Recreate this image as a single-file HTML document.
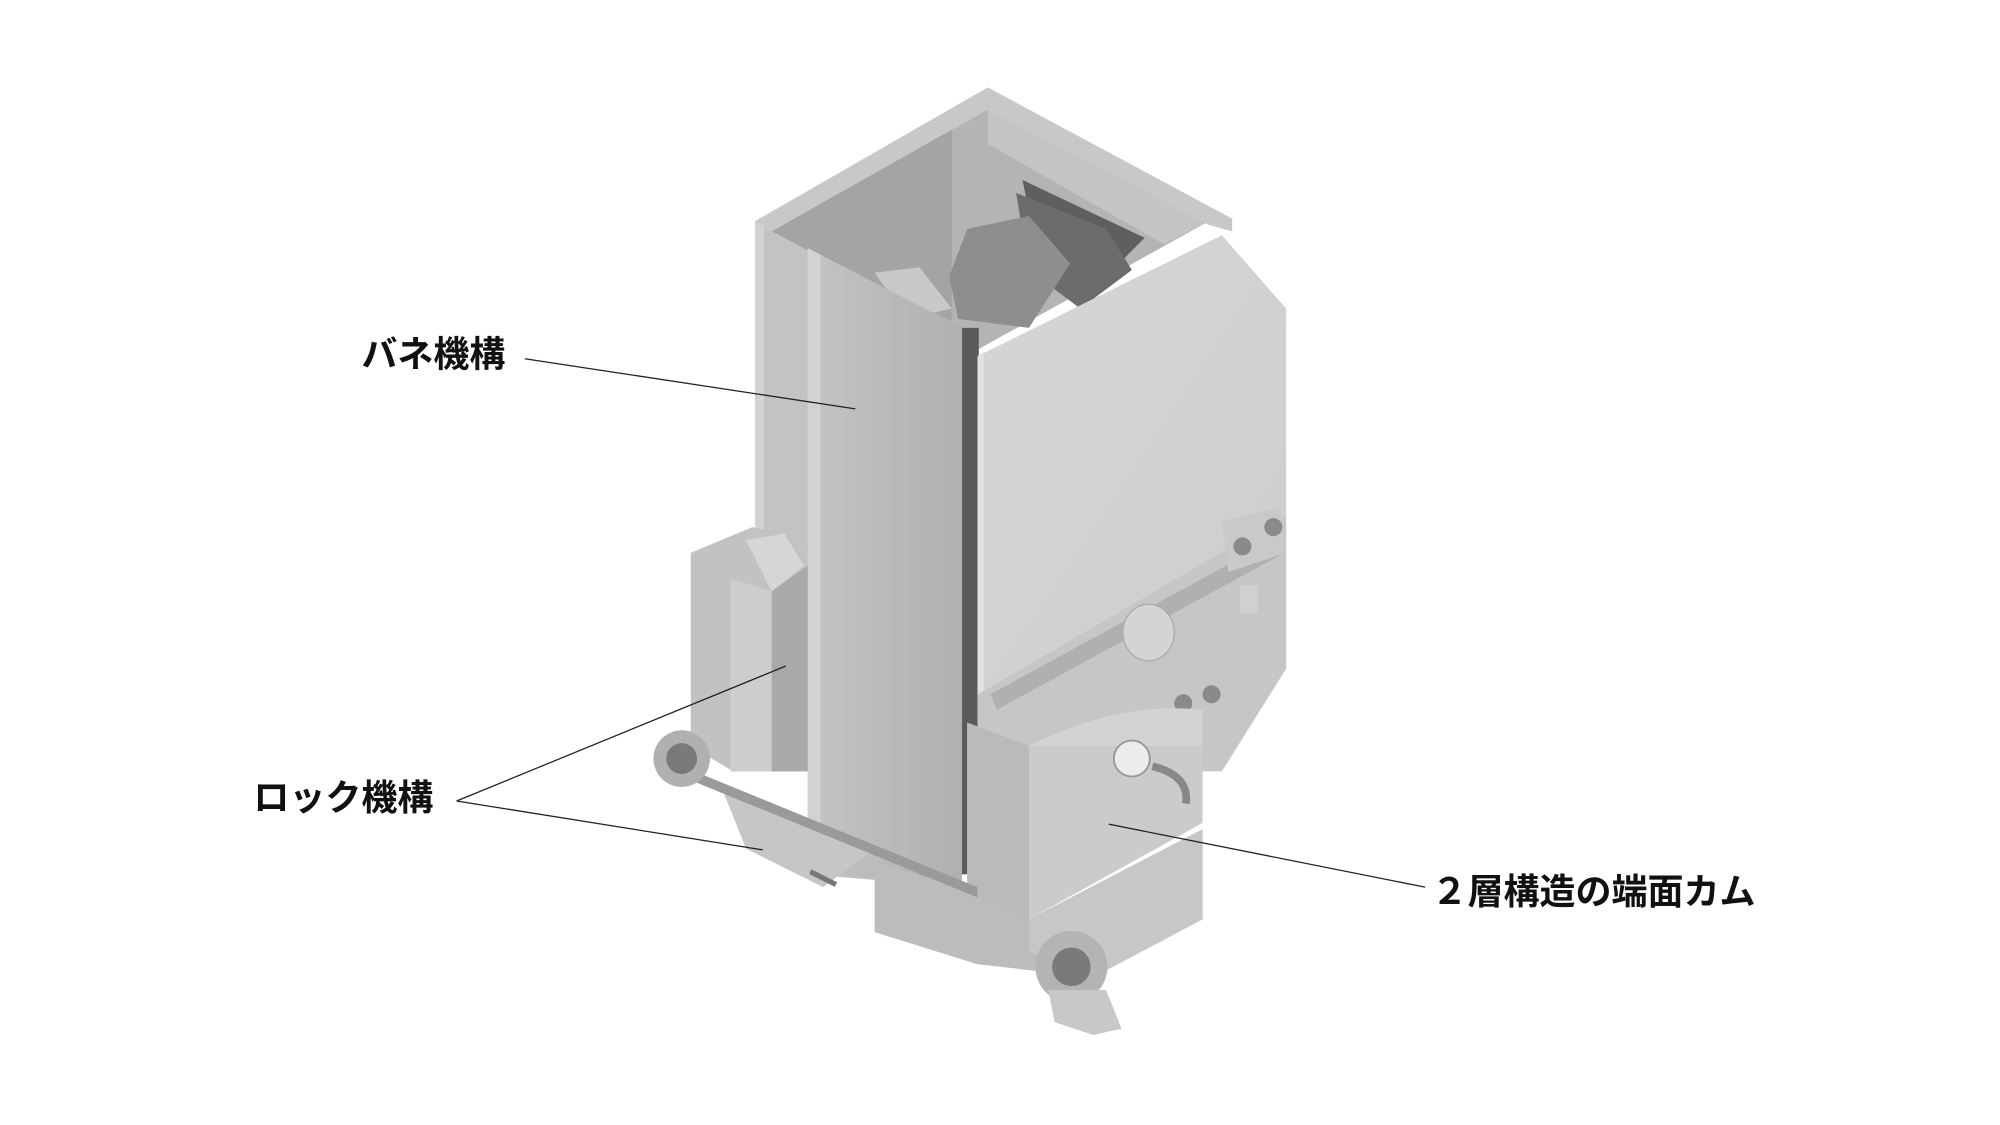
<!DOCTYPE html>
<html><head><meta charset="utf-8"><style>
html,body{margin:0;padding:0;background:#fff;}
svg{display:block;}
</style></head><body>
<svg width="2000" height="1125" viewBox="0 0 1555 875" preserveAspectRatio="none" xmlns="http://www.w3.org/2000/svg">
<defs>
<linearGradient id="cp" x1="0" y1="0" x2="1" y2="0"><stop offset="0" stop-color="#c4c4c4"/><stop offset="1" stop-color="#b0b0b0"/></linearGradient>
<linearGradient id="rp" x1="0" y1="0" x2="1" y2="1"><stop offset="0" stop-color="#d6d6d6"/><stop offset="1" stop-color="#cdcdcd"/></linearGradient>
</defs>
<rect width="1555" height="875" fill="#fff"/>
<!-- box interior -->
<polygon points="600,180 768,85 940,172 760,272 748,255" fill="#b4b4b4"/>
<polygon points="600,180 740,100 740,250 628,195" fill="#a4a4a4"/>
<polygon points="768,85 940,172 905,190 768,112" fill="#c4c4c4"/>
<polygon points="795,140 890,185 870,205 800,165" fill="#5f5f5f"/>
<polygon points="790,150 860,178 880,210 840,240 800,210" fill="#6c6c6c"/>
<polygon points="752,178 800,168 832,205 800,255 745,248 738,215" fill="#8e8e8e"/>
<polygon points="680,212 715,208 740,240 705,248" fill="#c8c8c8"/>
<!-- top rim -->
<polygon points="587,172 768,68 958,170 958,180 940,175 768,85 600,180" fill="#c8c8c8"/>
<!-- left outer wall -->
<polygon points="587,172 600,180 628,195 628,430 587,440" fill="#c3c3c3"/>
<polygon points="587,172 594,176 594,440 587,440" fill="#d2d2d2"/>
<!-- dark gap between panels -->
<rect x="745" y="255" width="16" height="425" fill="#5a5a5a"/>
<!-- right panel -->
<polygon points="760,277 950,183 1000,240 1000,400 760,540" fill="url(#rp)"/>
<polygon points="760,277 765,274 765,540 760,540" fill="#e2e2e2"/>
<polygon points="1000,400 1000,520 950,600 760,600 760,540" fill="#c6c6c6"/>
<polygon points="770,540 990,420 995,432 775,552" fill="#b0b0b0"/>
<!-- center front panel -->
<polygon points="628,193 748,255 748,690 628,680" fill="url(#cp)"/>
<polygon points="628,193 638,198 638,682 628,680" fill="#d2d2d2"/>
<!-- mechanism on right -->
<ellipse cx="893" cy="492" rx="20" ry="22" fill="#d4d4d4" stroke="#aaa" stroke-width="1"/>
<polygon points="950,405 995,395 1000,430 955,445" fill="#c9c9c9"/>
<circle cx="966" cy="425" r="7" fill="#8a8a8a"/><circle cx="990" cy="410" r="7" fill="#8a8a8a"/>
<rect x="964" y="455" width="14" height="22" fill="#d0d0d0"/>
<circle cx="920" cy="547" r="7" fill="#8a8a8a"/><circle cx="942" cy="540" r="7" fill="#8a8a8a"/>
<!-- cam block -->
<polygon points="752,562 800,580 935,552 935,640 800,715 752,700" fill="#cbcbcb"/>
<polygon points="752,562 800,580 800,715 752,700" fill="#bababa"/>
<path d="M800,580 Q870,545 935,552 L935,580 Z" fill="#d3d3d3"/>
<circle cx="880" cy="590" r="14" fill="#ececec" stroke="#999" stroke-width="1.5"/>
<path d="M896,596 Q925,603 922,625" stroke="#888" stroke-width="6" fill="none"/>
<!-- bottom block -->
<polygon points="680,670 745,690 800,715 935,645 935,715 850,760 760,750 680,725" fill="#bcbcbc"/>
<polygon points="800,715 935,645 935,715 850,760 800,740" fill="#c7c7c7"/>
<!-- left lock block -->
<polygon points="537,430 585,410 628,420 628,600 570,600 537,580" fill="#c2c2c2"/>
<polygon points="568,450 600,460 600,600 568,600" fill="#cdcdcd"/>
<polygon points="580,420 610,415 625,440 600,460" fill="#d6d6d6"/>
<polygon points="600,460 628,440 628,600 600,600" fill="#a9a9a9"/>
<!-- shaft & bracket -->
<polygon points="560,610 680,660 640,690 580,660" fill="#c6c6c6"/>
<polygon points="540,600 760,690 760,698 540,608" fill="#9a9a9a"/>
<line x1="630" y1="678" x2="650" y2="688" stroke="#777" stroke-width="4"/>
<!-- wheels -->
<circle cx="530" cy="590" r="22" fill="#b0b0b0"/><circle cx="530" cy="590" r="12" fill="#7a7a7a"/>
<circle cx="833" cy="752" r="28" fill="#b4b4b4"/><circle cx="833" cy="752" r="15" fill="#7a7a7a"/>
<polygon points="815,770 860,770 872,800 850,805 820,795" fill="#c8c8c8"/>
<!-- leaders -->
<g stroke="#222" stroke-width="1" fill="none">
<line x1="408" y1="279" x2="665" y2="318"/>
<line x1="355" y1="623" x2="611" y2="518"/>
<line x1="355" y1="623" x2="593" y2="661"/>
<line x1="862" y1="641" x2="1108" y2="690"/>
</g>
<g font-family="'Liberation Sans','Noto Sans CJK JP',sans-serif" font-weight="bold" font-size="28" fill="#111">
<text x="281" y="285">バネ機構</text>
<text x="197" y="630">ロック機構</text>
<text x="1113" y="703">２層構造の端面カム</text>
</g>
</svg>
</body></html>
